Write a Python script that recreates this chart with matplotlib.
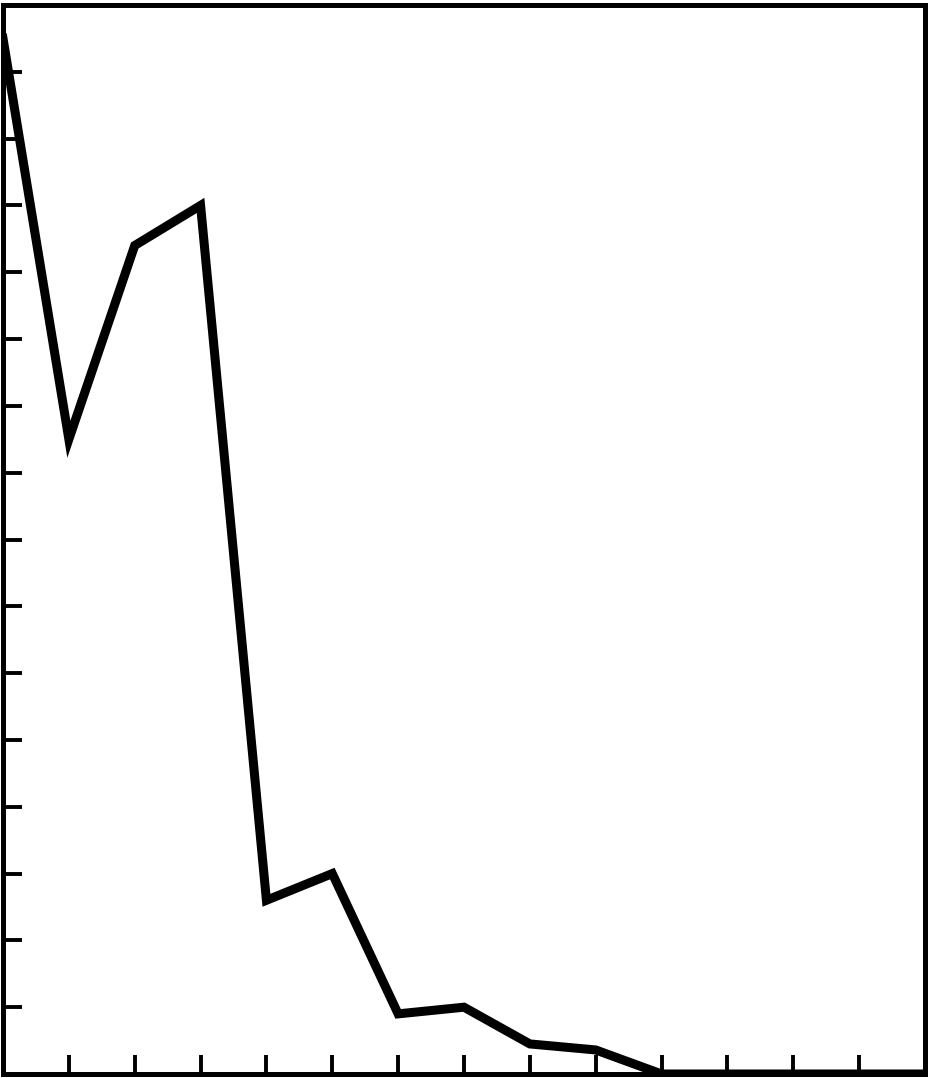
import numpy as np
import matplotlib
matplotlib.use("Agg")
import matplotlib.pyplot as plt

# values
x = [0, 1, 2, 3, 4, 5, 6, 7, 8, 9, 10, 11, 12, 13, 14]
y = [15.5, 9.5, 12.4, 13.0, 2.6, 3.0, 0.9, 1.0, 0.45, 0.36, 0.0, 0.0, 0.0, 0.0, 0.0]
xticks = list(range(1, 14))
yticks = list(range(1, 16))

fig = plt.figure(figsize=(9.29, 10.78), dpi=100)
ax = fig.add_axes([3/929, 4/1078, 922/929, 1069/1078])

ax.plot(x, y, color="black", lw=6.5, solid_joinstyle="miter")

ax.set_xlim(0, 14)
ax.set_ylim(0, 16)
ax.set_xticks(xticks)
ax.set_yticks(yticks)
ax.tick_params(direction="in", length=14, width=2.8, labelleft=False, labelbottom=False)
for s in ax.spines.values():
    s.set_linewidth(3.6)

fig.savefig("out.png", dpi=100)
